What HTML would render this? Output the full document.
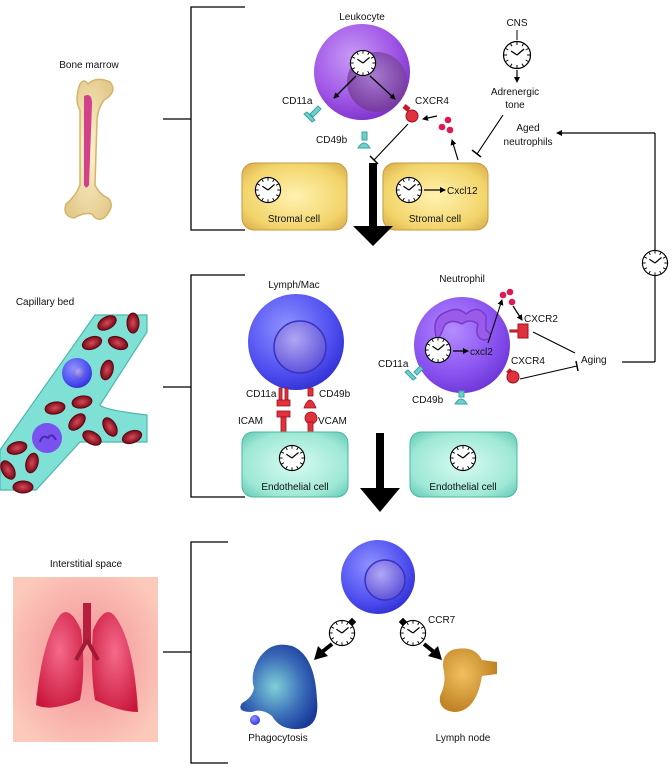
<!DOCTYPE html>
<html><head><meta charset="utf-8"><style>
html,body{margin:0;padding:0;background:#fff;width:672px;height:772px;overflow:hidden}
svg{display:block}
text{font-family:"Liberation Sans",Arial,sans-serif;font-size:10px;fill:#111}
</style></head><body>
<svg width="672" height="772" viewBox="0 0 672 772" xmlns="http://www.w3.org/2000/svg">
<defs>
<radialGradient id="purp" cx="0.4" cy="0.35" r="0.7"><stop offset="0" stop-color="#c89af5"/><stop offset="0.6" stop-color="#a35ae8"/><stop offset="1" stop-color="#7a2fc9"/></radialGradient>
<radialGradient id="purpNuc" cx="0.45" cy="0.4" r="0.7"><stop offset="0" stop-color="#a77ad0"/><stop offset="1" stop-color="#6f2f98"/></radialGradient>
<radialGradient id="neut" cx="0.4" cy="0.35" r="0.7"><stop offset="0" stop-color="#b48cff"/><stop offset="0.65" stop-color="#8a52f0"/><stop offset="1" stop-color="#6a35d6"/></radialGradient>
<radialGradient id="blue" cx="0.4" cy="0.35" r="0.7"><stop offset="0" stop-color="#8f93ff"/><stop offset="0.7" stop-color="#4e4df0"/><stop offset="1" stop-color="#2f2fd0"/></radialGradient>
<radialGradient id="blueNuc" cx="0.4" cy="0.35" r="0.7"><stop offset="0" stop-color="#b1a7f5"/><stop offset="1" stop-color="#5a4fd8"/></radialGradient>
<radialGradient id="strom" cx="0.5" cy="0.5" r="0.7"><stop offset="0" stop-color="#fff2b0"/><stop offset="0.7" stop-color="#f2d46a"/><stop offset="1" stop-color="#d6a84a"/></radialGradient>
<radialGradient id="endo" cx="0.5" cy="0.5" r="0.7"><stop offset="0" stop-color="#d8fbf2"/><stop offset="0.7" stop-color="#9ee8d6"/><stop offset="1" stop-color="#5fc7b2"/></radialGradient>
<radialGradient id="phago" cx="0.45" cy="0.5" r="0.6"><stop offset="0" stop-color="#7fd0d8"/><stop offset="0.6" stop-color="#3a6cb8"/><stop offset="1" stop-color="#1a3a9a"/></radialGradient>
<radialGradient id="lymphn" cx="0.4" cy="0.4" r="0.7"><stop offset="0" stop-color="#f0c060"/><stop offset="1" stop-color="#b87818"/></radialGradient>
<radialGradient id="lungbg" cx="0.5" cy="0.5" r="0.6"><stop offset="0" stop-color="#f28b92"/><stop offset="1" stop-color="#fcc9bb"/></radialGradient>
<radialGradient id="lung" cx="0.5" cy="0.4" r="0.7"><stop offset="0" stop-color="#f56a8a"/><stop offset="1" stop-color="#c8153a"/></radialGradient>
<radialGradient id="bone" cx="0.5" cy="0.5" r="0.6"><stop offset="0" stop-color="#fdf3cf"/><stop offset="1" stop-color="#e3c98a"/></radialGradient>
<radialGradient id="rbc" cx="0.5" cy="0.5" r="0.5"><stop offset="0" stop-color="#d84a5a"/><stop offset="1" stop-color="#7a0a18"/></radialGradient>
<symbol id="clk" viewBox="-15 -15 30 30">
<circle r="13.5" fill="#fff" stroke="#000" stroke-width="1.2"/>
<g stroke="#000" stroke-width="1">
<line x1="0" y1="-13" x2="0" y2="-10"/><line x1="0" y1="13" x2="0" y2="10"/><line x1="-13" y1="0" x2="-10" y2="0"/><line x1="13" y1="0" x2="10" y2="0"/>
<line x1="6.5" y1="-11.3" x2="5" y2="-8.7"/><line x1="11.3" y1="-6.5" x2="8.7" y2="-5"/><line x1="11.3" y1="6.5" x2="8.7" y2="5"/><line x1="6.5" y1="11.3" x2="5" y2="8.7"/>
<line x1="-6.5" y1="11.3" x2="-5" y2="8.7"/><line x1="-11.3" y1="6.5" x2="-8.7" y2="5"/><line x1="-11.3" y1="-6.5" x2="-8.7" y2="-5"/><line x1="-6.5" y1="-11.3" x2="-5" y2="-8.7"/>
<line x1="0" y1="0" x2="-6" y2="-4" stroke-width="1.3"/><line x1="0" y1="0" x2="7" y2="-6" stroke-width="1.3"/>
</g></symbol>
<marker id="ah" markerWidth="6" markerHeight="6" refX="5" refY="3" orient="auto" markerUnits="userSpaceOnUse"><path d="M0,0 L6,3 L0,6 z" fill="#000"/></marker>
</defs>

<g stroke="#000" stroke-width="1.3" fill="none">
<path d="M245,7 H191 V230 H245"/><line x1="163" y1="119" x2="191" y2="119"/>
<path d="M245,275 H191 V497 H245"/><line x1="163" y1="387" x2="191" y2="387"/>
<path d="M228,542 H191 V763 H228"/><line x1="163" y1="652" x2="191" y2="652"/>
</g>

<text x="89" y="68" text-anchor="middle">Bone marrow</text>
<path d="M80,84 Q84,78 88,84 Q96,76 110,82 Q118,92 104,100 Q98,108 97,120 L95,185 Q100,195 108,198 Q116,206 104,218 Q97,222 92,214 Q84,212 74,218 Q62,216 66,204 Q76,196 80,185 L80,110 Q74,100 80,84 Z" fill="url(#bone)" stroke="#d6b36a" stroke-width="1.5"/>
<path d="M84,96 Q92,92 92,104 L89,185 Q86,190 84,185 L84,110 Z" fill="#d2418a"/>

<text x="45" y="305" text-anchor="middle">Capillary bed</text>
<path d="M95,315 H147 V332 L100,405 Q104,410 147,415 V442 H80 L36,490 H0 V450 Z" fill="#7fe0d6" stroke="#4cb8ad" stroke-width="1.2"/>
<g fill="url(#rbc)" stroke="#5a0610" stroke-width="1">
<ellipse cx="107" cy="323" rx="10" ry="6" transform="rotate(-30 107 323)"/>
<ellipse cx="133" cy="323" rx="6" ry="10"/>
<ellipse cx="92" cy="343" rx="10" ry="6" transform="rotate(-20 92 343)"/>
<ellipse cx="118" cy="343" rx="10" ry="6" transform="rotate(20 118 343)"/>
<ellipse cx="107" cy="370" rx="6" ry="10" transform="rotate(15 107 370)"/>
<ellipse cx="82" cy="402" rx="10" ry="6" transform="rotate(-10 82 402)"/>
<ellipse cx="55" cy="408" rx="10" ry="6" transform="rotate(-10 55 408)"/>
<ellipse cx="77" cy="422" rx="10" ry="6" transform="rotate(-45 77 422)"/>
<ellipse cx="110" cy="427" rx="6" ry="10" transform="rotate(-30 110 427)"/>
<ellipse cx="92" cy="438" rx="10" ry="6" transform="rotate(30 92 438)"/>
<ellipse cx="132" cy="437" rx="10" ry="6" transform="rotate(-20 132 437)"/>
<ellipse cx="17" cy="448" rx="10" ry="6" transform="rotate(-15 17 448)"/>
<ellipse cx="32" cy="463" rx="6" ry="10" transform="rotate(15 32 463)"/>
<ellipse cx="8" cy="470" rx="6" ry="10" transform="rotate(-30 8 470)"/>
<ellipse cx="23" cy="487" rx="10" ry="6"/>
</g>
<circle cx="77" cy="373" r="15" fill="url(#blue)"/><circle cx="79" cy="373" r="6" fill="url(#blueNuc)"/>
<circle cx="47" cy="438" r="15" fill="#7a52f0"/><path d="M40,442 q2,-8 8,-4 q4,-6 8,2" stroke="#4a28b0" stroke-width="2" fill="none"/>

<text x="86" y="567" text-anchor="middle">Interstitial space</text>
<rect x="13" y="577" width="145" height="165" fill="url(#lungbg)"/>
<rect x="83" y="603" width="8" height="40" fill="#b81e3e"/>
<path d="M81,630 Q70,605 60,615 Q42,640 36,705 Q50,712 80,700 Q86,670 81,630 Z" fill="url(#lung)"/>
<path d="M93,630 Q104,605 114,615 Q134,640 138,712 Q120,712 95,700 Q90,670 93,630 Z" fill="url(#lung)"/>
<path d="M87,640 L76,660 M87,640 L98,660" stroke="#a01a36" stroke-width="4" fill="none"/>

<text x="362" y="20" text-anchor="middle">Leukocyte</text>
<circle cx="362" cy="72" r="48" fill="url(#purp)"/>
<circle cx="377" cy="82" r="30" fill="url(#purpNuc)"/>
<use href="#clk" x="349" y="49" width="28" height="28"/>
<line x1="356" y1="76" x2="334" y2="98" stroke="#000" stroke-width="1.3" marker-end="url(#ah)"/>
<line x1="370" y1="76" x2="395" y2="99" stroke="#000" stroke-width="1.3" marker-end="url(#ah)"/>
<text x="282" y="104">CD11a</text>
<text x="415" y="104">CXCR4</text>
<text x="316" y="143">CD49b</text>
<g fill="#6fd0cc" stroke="#3aa5a0"><path d="M318,106 l-8,8 l3,3 l8,-8 z"/><path d="M307,112 l8,8 l-3,2 l-8,-8 z"/><rect x="362" y="132" width="5" height="8"/><path d="M358,148 q6,-10 12,0 z"/></g>
<path d="M404,106 l5,4" stroke="#c01a28" stroke-width="5"/><circle cx="412" cy="116" r="6" fill="#e0323c" stroke="#a01020"/>
<line x1="408" y1="124" x2="374" y2="160" stroke="#000" stroke-width="1.1"/><line x1="370" y1="156" x2="378" y2="164" stroke="#000" stroke-width="1.5"/>
<g fill="#e01a50"><circle cx="448" cy="120" r="3.3"/><circle cx="442" cy="127" r="3.3"/><circle cx="450" cy="130" r="3.3"/></g>
<line x1="437" y1="116" x2="423" y2="119" stroke="#000" stroke-width="1.2" marker-end="url(#ah)"/>
<line x1="458" y1="160" x2="452" y2="140" stroke="#000" stroke-width="1.2" marker-end="url(#ah)"/>

<rect x="242" y="163" width="105" height="67" rx="12" fill="url(#strom)" stroke="#c89a40"/>
<rect x="383" y="163" width="105" height="67" rx="12" fill="url(#strom)" stroke="#c89a40"/>
<use href="#clk" x="254" y="176" width="28" height="28"/>
<use href="#clk" x="395" y="176" width="28" height="28"/>
<line x1="424" y1="190" x2="445" y2="190" stroke="#000" stroke-width="1.3" marker-end="url(#ah)"/>
<text x="447" y="194">Cxcl12</text>
<text x="294" y="222" text-anchor="middle">Stromal cell</text>
<text x="435" y="222" text-anchor="middle">Stromal cell</text>
<rect x="369" y="163" width="8" height="64" fill="#000"/><path d="M353,226 L393,226 L373,246 Z" fill="#000"/>

<text x="517" y="26" text-anchor="middle">CNS</text>
<line x1="517" y1="30" x2="517" y2="40" stroke="#000"/>
<use href="#clk" x="502" y="40" width="30" height="30"/>
<line x1="517" y1="70" x2="517" y2="82" stroke="#000" stroke-width="1.2" marker-end="url(#ah)"/>
<text x="515" y="95" text-anchor="middle">Adrenergic</text>
<text x="515" y="108" text-anchor="middle">tone</text>
<line x1="503" y1="115" x2="477" y2="154" stroke="#000" stroke-width="1.1"/><line x1="472" y1="150" x2="481" y2="157" stroke="#000" stroke-width="1.5"/>
<text x="528" y="131" text-anchor="middle">Aged</text>
<text x="528" y="145" text-anchor="middle">neutrophils</text>
<path d="M655,362 H622" stroke="#000" stroke-width="1.2" fill="none"/>
<line x1="655" y1="362" x2="655" y2="133" stroke="#000" stroke-width="1.2"/>
<line x1="655" y1="133" x2="557" y2="133" stroke="#000" stroke-width="1.2" marker-end="url(#ah)"/>
<use href="#clk" x="641" y="249" width="28" height="28"/>

<text x="294" y="288" text-anchor="middle">Lymph/Mac</text>
<circle cx="296" cy="342" r="48" fill="url(#blue)"/>
<circle cx="300" cy="347" r="26" fill="url(#blueNuc)" stroke="#3a30c0" stroke-width="1.5"/>
<text x="246" y="397">CD11a</text><text x="319" y="397">CD49b</text>
<text x="238" y="424">ICAM</text><text x="318" y="424">VCAM</text>
<g fill="#e0323c" stroke="#a01020" stroke-width="0.8">
<rect x="279" y="388" width="3" height="12"/><rect x="285" y="388" width="3" height="12"/><rect x="277" y="400" width="13" height="6"/>
<rect x="277" y="411" width="13" height="6"/><rect x="281" y="417" width="5" height="15"/>
<rect x="308" y="388" width="5" height="8"/><path d="M304,408 q6,-16 12,0 z"/>
<circle cx="311" cy="418" r="6"/><rect x="308" y="422" width="5" height="10"/>
</g>
<rect x="242" y="432" width="106" height="65" rx="11" fill="url(#endo)" stroke="#4cb8a0"/>
<rect x="410" y="432" width="107" height="65" rx="11" fill="url(#endo)" stroke="#4cb8a0"/>
<use href="#clk" x="278" y="444" width="28" height="28"/>
<use href="#clk" x="449" y="444" width="28" height="28"/>
<text x="295" y="490" text-anchor="middle">Endothelial cell</text>
<text x="463" y="490" text-anchor="middle">Endothelial cell</text>
<rect x="376" y="433" width="8" height="56" fill="#000"/><path d="M360,488 L400,488 L380,512 Z" fill="#000"/>

<text x="462" y="282" text-anchor="middle">Neutrophil</text>
<circle cx="462" cy="345" r="48" fill="url(#neut)"/>
<path d="M437,340 Q430,318 446,312 Q458,306 466,314 Q478,304 486,316 L486,330 Q496,338 484,340 Q474,338 478,324 Q470,318 462,324 Q450,318 444,326 Q442,334 437,340 Z" fill="#9a5be8" stroke="#7a3ad0" stroke-width="1.5"/>
<use href="#clk" x="424" y="336" width="28" height="28"/>
<line x1="453" y1="351" x2="468" y2="351" stroke="#000" stroke-width="1.3" marker-end="url(#ah)"/>
<text x="470" y="355" fill="#222">cxcl2</text>
<line x1="488" y1="343" x2="502" y2="300" stroke="#000" stroke-width="1.1" marker-end="url(#ah)"/>
<g fill="#e01a50"><circle cx="503" cy="295" r="3.3"/><circle cx="510" cy="292" r="3.3"/><circle cx="512" cy="302" r="3.3"/></g>
<line x1="513" y1="306" x2="522" y2="320" stroke="#000" stroke-width="1.2" marker-end="url(#ah)"/>
<text x="524" y="322">CXCR2</text>
<text x="511" y="364">CXCR4</text>
<path d="M510,330 h8 v-6 h10 v14 h-10 v-6 h-8 z" fill="#e0323c" stroke="#a01020"/>
<path d="M508,370 l4,4" stroke="#c01a28" stroke-width="5"/><circle cx="513" cy="377" r="6" fill="#e0323c" stroke="#a01020"/>
<line x1="533" y1="332" x2="575" y2="353" stroke="#000" stroke-width="1.1"/>
<line x1="520" y1="379" x2="577" y2="366" stroke="#000" stroke-width="1.1"/><line x1="576" y1="361" x2="578" y2="371" stroke="#000" stroke-width="1.5"/>
<text x="581" y="363" fill="#b01020" font-size="10.5">Aging</text>
<text x="378" y="367">CD11a</text>
<g fill="#6fd0cc" stroke="#3aa5a0"><path d="M420,366 l-6,6 l3,3 l6,-6 z"/><path d="M408,370 l8,8 l-3,2 l-8,-8 z"/><rect x="459" y="391" width="5" height="6"/><path d="M455,404 q6,-10 12,0 z"/></g>
<text x="412" y="403">CD49b</text>

<circle cx="378" cy="577" r="37" fill="url(#blue)"/>
<circle cx="385" cy="580" r="20" fill="url(#blueNuc)" stroke="#3a30c0" stroke-width="1.5"/>
<use href="#clk" x="328" y="619" width="28" height="28"/>
<rect x="349" y="619" width="6" height="6" fill="#000" transform="rotate(45 352 622)"/>
<use href="#clk" x="399" y="619" width="28" height="28"/>
<rect x="400" y="619" width="6" height="6" fill="#000" transform="rotate(45 403 622)"/>
<line x1="332" y1="644" x2="322" y2="652" stroke="#000" stroke-width="4"/><path d="M314,660 L318,646 L328,656 Z" fill="#000"/>
<line x1="424" y1="644" x2="434" y2="652" stroke="#000" stroke-width="4"/><path d="M442,660 L438,646 L428,656 Z" fill="#000"/>
<text x="428" y="623" fill="#b01020">CCR7</text>
<path d="M258,660 Q270,640 292,646 Q315,655 317,700 Q320,728 298,729 Q280,730 272,716 Q262,708 252,712 Q236,712 242,703 Q252,698 254,688 Q250,675 258,660 Z" fill="url(#phago)"/>
<circle cx="255" cy="720" r="5" fill="url(#blue)"/>
<text x="278" y="741" text-anchor="middle">Phagocytosis</text>
<path d="M452,650 Q474,644 482,660 L497,662 L497,674 L482,676 Q476,712 454,712 Q438,710 440,696 Q446,684 444,672 Q440,656 452,650 Z" fill="url(#lymphn)"/>
<text x="463" y="741" text-anchor="middle">Lymph node</text>
</svg>
</body></html>
